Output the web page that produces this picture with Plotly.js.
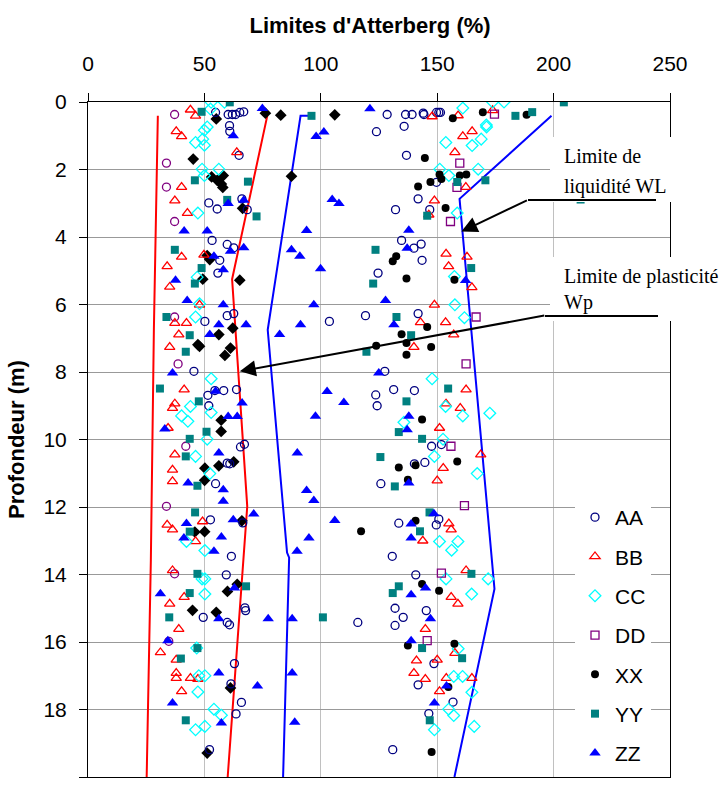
<!DOCTYPE html>
<html><head><meta charset="utf-8">
<script src="https://cdn.plot.ly/plotly-3.0.1.min.js"></script>
<style>html,body{margin:0;padding:0;background:#fff}</style>
</head><body><div id="chart" style="width:722px;height:788px"></div>
<script>
// ---- data (Limites d'Atterberg %, profondeur m) ----
const aaX=[54.8,60.2,62.0,63.4,65.2,66.9,60.8,60.9,64.9,51.9,55.5,66.1,68.4,53.3,59.8,62.6,56.6,55.8,59.8,62.6,
 50.2,45.5,51.5,54.5,58.3,63.8,51.9,65.5,67.2,59.8,60.9,54.8,52.6,66.5,
 61.6,59.4,67.4,67.7,49.5,59.8,60.8,62.9,61.4,65.9,63.6,52.2,
 128.5,136.4,139.2,144.0,144.3,149.7,150.7,151.4,123.9,135.8,136.8,149.7,141.8,132.1,146.8,134.7,140.0,143.1,143.5,124.6,119.2,141.8,
 103.7,127.5,131.3,140.2,123.6,124.2,147.6,151.8,140.2,144.7,125.8,150.7,149.6,133.5,
 130.7,140.8,131.9,135.4,145.3,131.9,115.9,148.6,141.8,156.8,146.4,130.9];
const aaY=[0.31,0.37,0.37,0.37,0.31,0.29,0.70,0.87,1.58,2.99,3.17,2.87,3.19,4.10,4.22,4.32,4.69,5.07,6.33,6.27,
 6.50,7.98,8.69,8.55,8.55,8.52,9.00,10.22,10.14,10.70,10.72,11.31,12.38,12.47,
 13.46,14.01,14.99,15.07,15.27,15.42,15.49,16.64,17.24,17.79,18.13,19.19,
 0.37,0.37,0.37,0.33,0.37,0.31,0.31,0.31,0.88,0.72,1.58,2.38,2.87,3.19,3.19,4.10,4.33,4.21,4.69,5.07,6.33,6.27,
 6.50,7.98,8.52,8.55,8.68,9.00,10.20,10.15,10.72,10.68,11.31,12.36,12.53,12.48,
 13.46,14.01,15.00,15.27,15.07,15.51,15.42,16.64,17.27,17.78,18.12,19.19];

const bbX=[44.0,46.2,37.9,40.2,63.9,40.2,37.3,42.7,40.2,34.0,49.8,35.1,47.9,
 37.3,42.3,39.0,35.1,41.3,37.3,36.3,34.4,37.3,36.3,36.3,34.0,36.3,49.2,46.2,
 36.3,35.1,41.3,39.0,31.1,37.9,37.9,37.9,44.0,47.2,40.2,
 147.8,159.0,173.8,161.0,165.0,157.6,162.3,148.8,146.4,153.8,162.8,154.9,164.9,148.8,
 142.8,153.6,157.1,140.0,162.4,153.8,159.9,151.0,168.7,152.6,150.0,155.0,156.0,143.8,
 162.4,156.0,158.9,144.9,157.6,150.0,141.1,140.0,144.9,153.9,164.9,151.0];
const bbY=[0.23,0.41,0.87,1.02,1.49,2.52,2.92,3.29,4.59,4.87,4.53,5.48,6.01,
 6.55,6.55,6.89,7.26,8.52,8.94,9.07,9.66,10.45,10.90,11.24,12.53,12.67,12.43,13.02,
 13.88,14.87,14.67,15.62,16.31,16.53,16.92,17.07,17.07,17.10,17.46,
 0.43,0.40,0.25,1.02,0.87,1.49,2.52,2.92,3.34,4.50,4.59,4.87,5.49,6.01,
 6.53,6.53,6.89,7.26,8.52,8.94,9.07,9.66,10.45,10.85,11.22,12.49,12.67,13.00,
 13.88,14.67,14.87,15.62,16.33,16.53,16.55,16.92,17.10,17.07,17.07,17.46];

const ccX=[52.9,58.6,52.6,51.2,50.0,46.2,49.3,50.0,49.0,56.2,50.0,47.2,46.9,47.9,46.2,
 52.9,44.0,40.2,42.9,52.9,51.2,46.2,52.3,42.3,50.2,
 49.0,50.2,50.2,47.6,50.2,47.2,54.1,57.3,46.2,50.2,46.7,
 161.0,173.8,178.7,171.2,171.1,153.7,165.0,168.9,151.1,155.0,167.6,158.6,157.4,157.6,161.7,
 147.8,153.6,161.0,172.6,135.7,152.5,148.8,167.2,151.0,158.9,
 156.2,153.8,171.9,164.8,159.0,157.1,160.9,164.9,154.9,157.1,148.8,165.9];
const ccY=[0.01,0.01,0.21,0.74,0.84,1.20,1.10,1.28,1.99,1.99,2.18,3.29,5.19,5.98,6.37,
 8.20,9.02,9.30,9.46,9.20,9.99,10.50,11.01,13.02,13.29,
 14.13,14.13,14.58,17.00,17.00,17.48,17.99,18.17,18.60,18.50,16.18,
 0.18,0.00,0.00,0.74,0.68,1.20,1.29,1.10,1.99,2.18,1.99,3.29,5.17,6.01,6.39,
 8.20,9.02,9.30,9.22,9.49,9.99,10.50,11.01,13.02,13.02,
 13.28,14.13,14.13,14.58,16.20,17.02,17.02,17.49,17.99,18.18,18.60,18.50];

const ddX=[174.6,159.7,158.5,155.7,166.7,162.4,155.9,161.7,151.8,145.7];
const ddY=[0.36,1.81,2.53,3.54,6.37,7.76,10.20,11.96,13.96,15.96];
const ddWpX=[37.2,33.7,33.7,37.2,37.2,38.7,42.0,33.7,37.2,34.7];
const ddWpY=[0.37,1.81,2.52,3.54,6.37,7.76,10.20,11.98,13.98,15.98];

const xxX=[156.7,169.6,144.7,151.0,151.8,159.7,162.5,141.8,147.1,153.6,132.4,130.9,136.8,157.4,188.4,
 145.7,134.7,136.8,123.8,136.8,147.4,143.5,133.5,140.7,158.6,137.4,140.7,117.3,
 143.5,150.8,137.4,157.4,154.8,147.6];
const xxY=[0.48,0.30,1.66,2.15,2.28,2.18,2.15,2.50,2.37,3.14,4.57,4.72,5.23,5.27,0.38,
 6.67,6.88,7.14,7.22,7.49,7.26,9.41,10.83,10.76,10.65,11.19,12.41,12.72,
 14.28,14.48,16.10,16.05,17.33,19.26];
const xxWpX=[55.1,76.2,82.8,45.2,53.1,55.5,58.1,57.3,57.9,66.4,51.2,52.3,49.3,65.2,106.0,87.4,
 62.2,56.2,47.2,47.9,61.2,58.8,57.2,57.2,50.2,56.2,62.6,50.1,66.1,45.9,50.1,
 59.9,64.1,44.9,55.1,61.2,51.2];
const xxWpY=[0.50,0.33,0.39,1.69,2.22,2.32,2.18,2.43,2.53,3.15,4.55,4.67,5.25,5.28,0.38,2.20,
 6.70,6.89,7.19,7.24,7.29,7.51,9.43,9.76,10.85,10.78,10.66,11.21,12.41,12.74,12.73,
 14.50,14.29,15.06,15.12,17.36,19.29];

const yyX=[60.9,48.8,45.9,68.7,59.8,72.4,37.3,48.8,45.9,33.7,
 43.7,42.0,30.9,47.6,50.9,43.7,42.0,47.0,46.0,43.7,
 47.0,43.7,34.9,47.0,39.9,67.9,42.0,
 96.0,158.6,170.7,145.7,123.5,122.5,164.6,132.5,183.6,190.8,204.4,211.6,
 138.8,119.6,154.7,136.8,133.5,143.5,125.6,131.8,146.7,142.6,
 164.7,133.5,130.9,100.9,143.5,160.7,146.8];
const yyY=[0.01,0.29,2.32,2.36,2.90,3.39,4.38,4.92,5.38,6.37,
 6.91,7.40,8.49,8.87,9.77,9.98,10.50,11.37,12.16,12.73,
 13.98,14.55,15.27,16.18,16.49,14.35,18.32,
 0.41,2.37,2.32,3.37,4.38,5.38,4.92,6.37,0.41,0.30,0.01,2.89,
 6.91,7.40,8.49,8.87,9.78,9.98,10.52,11.39,12.16,12.72,
 13.98,14.35,14.55,15.27,16.18,16.48,18.32];

const zzX=[74.9,62.4,66.9,60.2,41.3,51.2,61.2,66.9,54.1,58.1,37.6,42.6,58.1,
 121.1,98.0,101.3,104.9,107.8,93.9,137.8,137.1,87.4,91.0,99.9,127.8,97.0,162.2,
 56.2,67.9,52.3,82.3,36.3,54.8,66.2,60.2,64.1,33.0,56.2,43.0,58.1,58.1,71.2,62.4,42.3,41.2,57.3,
 91.3,131.4,124.9,102.7,109.9,97.7,137.8,137.1,89.9,137.8,93.9,97.0,148.6,106.0,138.8,138.8,94.9,
 54.1,31.1,56.2,77.4,34.3,56.2,72.8,62.9,36.3,57.3,
 89.8,145.0,138.8,87.7,147.1,138.8,87.7,154.0,148.8,88.8];
const zzY=[0.19,1.00,2.91,3.01,3.82,3.82,4.42,4.32,4.57,4.97,5.28,5.88,6.01,
 0.20,1.02,0.89,2.89,3.01,3.81,3.80,4.33,4.38,4.57,4.94,5.88,6.01,5.29,
 6.60,6.60,6.89,6.89,8.03,8.57,8.92,9.32,9.32,9.69,10.40,11.29,11.49,11.83,12.21,12.38,12.49,12.92,12.89,
 6.60,6.60,8.03,8.58,8.90,9.31,9.31,9.71,10.40,11.29,11.51,11.81,12.20,12.40,12.50,12.92,12.92,
 13.31,14.57,15.31,15.31,15.96,16.92,17.30,14.40,17.81,18.40,
 13.31,14.40,14.60,15.31,15.31,15.96,16.92,17.30,17.81,18.38];

// limit envelope lines
const redLeftX=[30.0,28.3,27.0,25.2];   const redLeftY=[0.41,6.74,13.56,20];
const redRightX=[77.0,61.9,68.4,60.0];  const redRightY=[0.41,5.25,11.98,20];
const blueLeftX=[96.5,91.3,77.2,85.5,86.4,83.8]; const blueLeftY=[0.41,0.41,6.75,13.35,13.5,20];
const blueRightX=[199.1,159.6,174.6,157.4]; const blueRightY=[0.41,2.87,14.43,20];

const xTicks=[0,50,100,150,200,250];
const yTicks=[0,2,4,6,8,10,12,14,16,18,20];

// ---- traces ----
function line(x,y,c){return {x:x,y:y,mode:'lines',line:{color:c,width:2},showlegend:false,hoverinfo:'skip',cliponaxis:false};}
function pts(x,y,name,sym,col,size,show,grp){
  return {x:x,y:y,name:name,mode:'markers',type:'scatter',showlegend:show,legendgroup:grp,
    marker:{symbol:sym,size:size,color:col,line:{color:col,width:sym.indexOf('open')>=0?1.3:0}}};
}
const traces=[
  line(redLeftX,redLeftY,'#ff0000'),line(redRightX,redRightY,'#ff0000'),
  line(blueLeftX,blueLeftY,'#0000ff'),line(blueRightX,blueRightY,'#0000ff'),
  pts(xxWpX,xxWpY,'XX Wp','diamond','#000000',9,false,'g5'),
  pts(ddWpX,ddWpY,'DD Wp','circle-open','#800080',8,false,'g4'),
  pts(aaX,aaY,'AA','circle-open','#000080',8,true,'g1'),
  pts(bbX,bbY,'BB','triangle-up-open','#ff0000',9,true,'g2'),
  pts(ccX,ccY,'CC','diamond-open','#00ffff',9,true,'g3'),
  pts(ddX,ddY,'DD','square-open','#800080',8,true,'g4'),
  pts(xxX,xxY,'XX','circle','#000000',8,true,'g5'),
  pts(yyX,yyY,'YY','square','#008080',8,true,'g6'),
  pts(zzX,zzY,'ZZ','triangle-up','#0000ff',10,true,'g7')
];

const L=88,T=102,W=582,H=675;
const px=v=>(v-L)/W, py=v=>1-(v-T)/H;
const serif={family:'Liberation Serif, Times New Roman, serif',size:20,color:'#000'};

const layout={
  width:722,height:788,margin:{l:L,r:722-L-W,t:T,b:788-T-H},
  paper_bgcolor:'#fff',plot_bgcolor:'#fff',
  font:{family:'Liberation Sans, Arial, sans-serif',color:'#000'},
  title:{text:"<b>Limites d'Atterberg (%)</b>",font:{size:22},x:0.5125,xanchor:'center',y:1-25/788,yanchor:'middle'},
  xaxis:{side:'top',range:[0,250],tickvals:xTicks,ticks:'outside',ticklen:8,tickcolor:'#000',
    tickfont:{size:21},ticklabelstandoff:14,showline:true,linecolor:'#000',linewidth:1,mirror:true,
    showgrid:true,gridcolor:'#c0c0c0',zeroline:false,fixedrange:true},
  yaxis:{range:[20,0],tickvals:yTicks,ticks:'outside',ticklen:8,tickcolor:'#000',tickfont:{size:21},
    ticklabelstandoff:8,showline:true,linecolor:'#000',linewidth:1,mirror:true,
    showgrid:true,gridcolor:'#999',zeroline:false,
    title:{text:'<b>Profondeur (m)</b>',font:{size:22},standoff:12}},
  legend:{x:px(575),y:py(497),xanchor:'left',yanchor:'top',bgcolor:'#fff',font:{size:21},
    traceorder:'grouped',tracegroupgap:9,itemwidth:30},
  shapes:[
    {type:'rect',xref:'paper',yref:'paper',x0:px(550),x1:px(716),y0:py(202),y1:py(137),fillcolor:'#fff',line:{width:0},layer:'above'},
    {type:'rect',xref:'paper',yref:'paper',x0:px(550),x1:px(716),y0:py(321),y1:py(257),fillcolor:'#fff',line:{width:0},layer:'above'},
    {type:'line',xref:'paper',yref:'paper',x0:px(528),x1:px(656),y0:py(200),y1:py(200),line:{color:'#000',width:2},layer:'above'},
    {type:'line',xref:'paper',yref:'paper',x0:px(545),x1:px(658),y0:py(316),y1:py(316),line:{color:'#000',width:2},layer:'above'}
  ],
  annotations:[
    {xref:'paper',yref:'paper',x:px(562),y:py(156),xanchor:'left',yanchor:'middle',text:'Limite de',showarrow:false,font:serif},
    {xref:'paper',yref:'paper',x:px(562),y:py(186),xanchor:'left',yanchor:'middle',text:'liquidité WL',showarrow:false,font:serif},
    {xref:'paper',yref:'paper',x:px(562),y:py(276),xanchor:'left',yanchor:'middle',text:'Limite de plasticité',showarrow:false,font:serif},
    {xref:'paper',yref:'paper',x:px(562),y:py(303),xanchor:'left',yanchor:'middle',text:'Wp',showarrow:false,font:serif},
    {x:160.4,y:3.84,xref:'x',yref:'y',text:'',showarrow:true,ax:67,ay:-32,arrowhead:2,arrowsize:1.6,arrowwidth:2,arrowcolor:'#000'},
    {x:65.2,y:7.98,xref:'x',yref:'y',text:'',showarrow:true,ax:306,ay:-56,arrowhead:2,arrowsize:1.6,arrowwidth:2,arrowcolor:'#000'}
  ]
};
Plotly.newPlot('chart',traces,layout,{staticPlot:true,displayModeBar:false});
</script></body></html>
